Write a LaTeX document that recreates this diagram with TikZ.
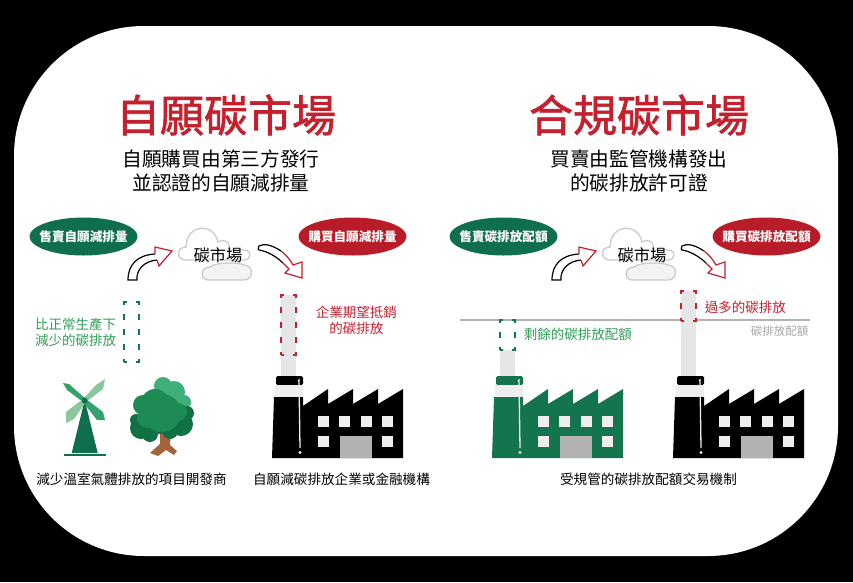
\documentclass[tikz,border=0pt]{standalone}
\usepackage{fontspec}
\usepackage{xcolor}
\setmainfont{Noto Sans CJK TC}
\newfontfamily\headfont[FakeBold=1.4]{Noto Sans CJK TC}
\usetikzlibrary{shapes.geometric, positioning}
\definecolor{brandred}{HTML}{C4202E}
\definecolor{ovalred}{HTML}{B81C28}
\definecolor{brandgreen}{HTML}{0F6E4E}
\definecolor{factorygreen}{HTML}{14744E}
\definecolor{labelgreen}{HTML}{2E9E55}
\definecolor{stackgrey}{HTML}{E6E6E6}
\definecolor{wingrey}{HTML}{EEEEEE}
\definecolor{doorgrey}{HTML}{B2B2B2}
\definecolor{capgrey}{HTML}{A8A8A8}
\definecolor{bark}{HTML}{A5633C}
\definecolor{leafdark}{HTML}{127045}
\definecolor{leafmain}{HTML}{1E8A55}
\definecolor{leaflight}{HTML}{3FAE78}
\definecolor{bladepale}{HTML}{8CC79B}
\definecolor{blademid}{HTML}{35A06C}

\tikzset{
  pics/factory/.style={code={
    \path[pic actions] (0,0) -- (2,-61) -- (31,-61) -- (31,-52) -- (56,-69) -- (56,-54) -- (81,-69) -- (81,-54) -- (106,-69) -- (106,-54) -- (131,-69) -- (131,0) -- cycle;
    \path[pic actions, rounded corners=1.5pt] (4,-73) rectangle (31,-82);
    \fill[wingrey] (3,-73) rectangle (31,-61);
    \draw[wingrey, line width=1.3pt] (26,-77) -- (27,-78) -- (28,-10);
    \fill[wingrey] (28,-5.5) circle (1.6);
    \foreach \x in {46,67,89,110} \fill[wingrey] (\x,-42) rectangle ++(10.5,10.5);
    \foreach \x in {46,110} \fill[wingrey] (\x,-22) rectangle ++(10.5,10.5);
    \fill[doorgrey] (68,-22) rectangle (100,0);
  }},
  pics/cloud/.style={code={
    \draw[line width=1.3pt, draw=capgrey!60, fill=white] (8,-20) .. controls (-2,-20) and (-2,-33) .. (8,-33) .. controls (8,-56) and (36,-58) .. (40,-38) .. controls (48,-42) and (54,-36) .. (50,-30) -- (66,-30) .. controls (74,-30) and (74,-20) .. (66,-20) -- cycle;
    \draw[line width=1.3pt, draw=capgrey!60, fill=wingrey!70] (30,0) .. controls (22,0) and (22,-13) .. (32,-13) .. controls (38,-18) and (60,-18) .. (66,-15) .. controls (76,-15) and (76,0) .. (66,0) -- cycle;
  }},
  pics/sellarrow/.style={code={
    \draw[black, line width=1.2pt] (27,-26) .. controls (10,-25) and (0,-16) .. (0,0) -- (9,0) .. controls (8,-10) and (16,-19) .. (29,-20);
    \draw[brandred, line width=1.2pt] (27,-26) -- (27,-33) -- (44,-29) -- (31,-14) -- (29,-20);
  }},
  pics/buyarrow/.style={code={
    \draw[black, line width=1.2pt] (22,1) .. controls (13,-5) and (5,-7) .. (0,-4) .. controls (-1,-2) and (-1,0) .. (0,0) .. controls (8,1) and (18,7) .. (24,13);
    \draw[brandred, line width=1.2pt] (22,1) .. controls (26,4) and (30,8) .. (34,15) -- (43,12) -- (43,28) -- (26,23) -- (30,19) .. controls (28,17) and (26,15) .. (24,13);
  }},
}

\begin{document}
\begin{tikzpicture}[x=1pt, y=-1pt,
  title/.style={font=\fontsize{44}{48}\headfont, text=brandred, inner sep=0pt},
  subtitle/.style={font=\fontsize{19.7}{24}\selectfont, align=center, inner sep=0pt},
  sellbubble/.style={ellipse, fill=brandgreen, text=white, minimum width=108pt, minimum height=38pt, inner xsep=-6pt, inner ysep=0pt, font=\fontsize{12.6}{14}\selectfont\bfseries},
  buybubble/.style={sellbubble, fill=ovalred},
  market/.style={inner sep=1pt, font=\fontsize{16.3}{18}\selectfont},
  greenbox/.style={draw=factorygreen, line width=1.5pt, dash pattern=on 6pt off 9pt, dash phase=3pt, minimum width=15pt, inner sep=0pt},
  redbox/.style={draw=brandred, line width=1.5pt, dash pattern=on 6pt off 9pt, dash phase=3pt, fill=stackgrey, minimum width=15pt, inner sep=0pt},
  note/.style={font=\fontsize{13.5}{16}\selectfont, inner sep=0pt, align=center},
  caption/.style={font=\fontsize{13.6}{16}\selectfont, inner sep=0pt},
]
  \useasboundingbox (0,0) rectangle (853,582);
  \fill[black] (0,0) rectangle (853,582);
  \fill[white, rounded corners=130pt] (14,26) rectangle (838,556);

  % left half
  \node[title] (voltitle) at (226,115) {自願碳市場};
  \node[subtitle, below=14pt of voltitle, xshift=-5pt] (volsub) {自願購買由第三方發行\\並認證的自願減排量};
  \node[sellbubble] (volsell) at (83.5,236.5) {售賣自願減排量};
  \node[buybubble] (volbuy) at (352.5,236.5) {購買自願減排量};
  \pic at (178,280) {cloud};
  \node[market] (volmarket) at (218,255) {碳市場};
  \pic at (128,280) {sellarrow};
  \pic at (259,250) {buyarrow};

  \fill[stackgrey] (281,355) rectangle (296,380);
  \node[greenbox, minimum height=60pt] (volsaved) at (131.5,332) {};
  \node[redbox, minimum height=60pt] (voloffset) at (288.5,325) {};
  \node[note, text=labelgreen, left=7pt of volsaved, align=right] (volsavedtext) {比正常生產下\\減少的碳排放};
  \node[note, text=brandred, right=19pt of voloffset, yshift=5pt] (voloffsettext) {企業期望抵銷\\的碳排放};

  % windmill and tree
  \fill[brandgreen] (84.7,400) -- (71.7,453) -- (97.7,453) -- cycle;
  \draw[brandgreen, line width=1.2pt] (64,455) -- (106,455);
  \fill[blademid] (86,399) -- (69,384) -- (63,383) -- (67,390) -- (83,402) -- cycle;
  \fill[blademid] (83,402) -- (97,420) -- (105,420) -- (103,412) -- (86,399) -- cycle;
  \fill[bladepale] (83,399) -- (96,385) -- (105,379) -- (103,389) -- (86,402) -- cycle;
  \fill[bladepale] (83,399) -- (66,412) -- (66,423) -- (74,419) -- (86,402) -- cycle;
  \fill[brandgreen] (84.7,400.7) circle (3);

  \fill[bark] (160,428) -- (171,428) -- (170,445) -- (177,451) -- (174,455) -- (166,450) -- (158,456) -- (150,453) -- (160,444) -- cycle;
  \foreach \x/\y/\r in {163/386/9, 174/392/11, 184/402/7, 170/400/12}
    \fill[leaflight] (\x,\y) circle (\r);
  \foreach \x/\y/\r in {141/428/11, 150/434/8, 136/420/6, 181/424/12, 170/431/8, 187/413/7, 160/422/12}
    \fill[leafdark] (\x,\y) circle (\r);
  \foreach \x/\y/\r in {143/405/10, 155/403/14, 162/413/19, 147/418/10, 178/412/9}
    \fill[leafmain] (\x,\y) circle (\r);

  \pic[fill=black] at (272,458) {factory};
  \node[caption] (volseller) at (131.5,479) {減少溫室氣體排放的項目開發商};
  \node[caption] (volbuyer) at (341.5,479) {自願減碳排放企業或金融機構};

  % right half
  \node[title] (comptitle) at (639,115) {合規碳市場};
  \node[subtitle, below=14pt of comptitle] (compsub) {買賣由監管機構發出\\的碳排放許可證};
  \node[sellbubble] (compsell) at (503.5,236.5) {售賣碳排放配額};
  \node[buybubble] (compbuy) at (766.5,236.5) {購買碳排放配額};
  \pic at (602,280) {cloud};
  \node[market] (compmarket) at (642,255) {碳市場};
  \pic at (552,280) {sellarrow};
  \pic at (682,250) {buyarrow};

  \fill[stackgrey] (500,350) rectangle (515,380);
  \fill[stackgrey] (681,321) rectangle (696,380);
  \draw[doorgrey, line width=1.3pt] (460,320) -- (810,320);
  \node[redbox, minimum height=30pt] (compover) at (688.5,306) {};
  \node[greenbox, minimum height=30pt] (compspare) at (507.5,335) {};
  \node[note, text=brandred, right=8pt of compover, yshift=-1pt] (compovertext) {過多的碳排放};
  \node[note, text=labelgreen, right=8pt of compspare, yshift=1pt] (compsparetext) {剩餘的碳排放配額};
  \node[font=\fontsize{11.5}{13}\selectfont, text=capgrey, inner sep=0pt] (cap) at (779.5,331) {碳排放配額};

  \pic[fill=factorygreen] at (492,458) {factory};
  \pic[fill=black] at (673,458) {factory};
  \node[caption] (compscheme) at (648.5,479) {受規管的碳排放配額交易機制};
\end{tikzpicture}
\end{document}
